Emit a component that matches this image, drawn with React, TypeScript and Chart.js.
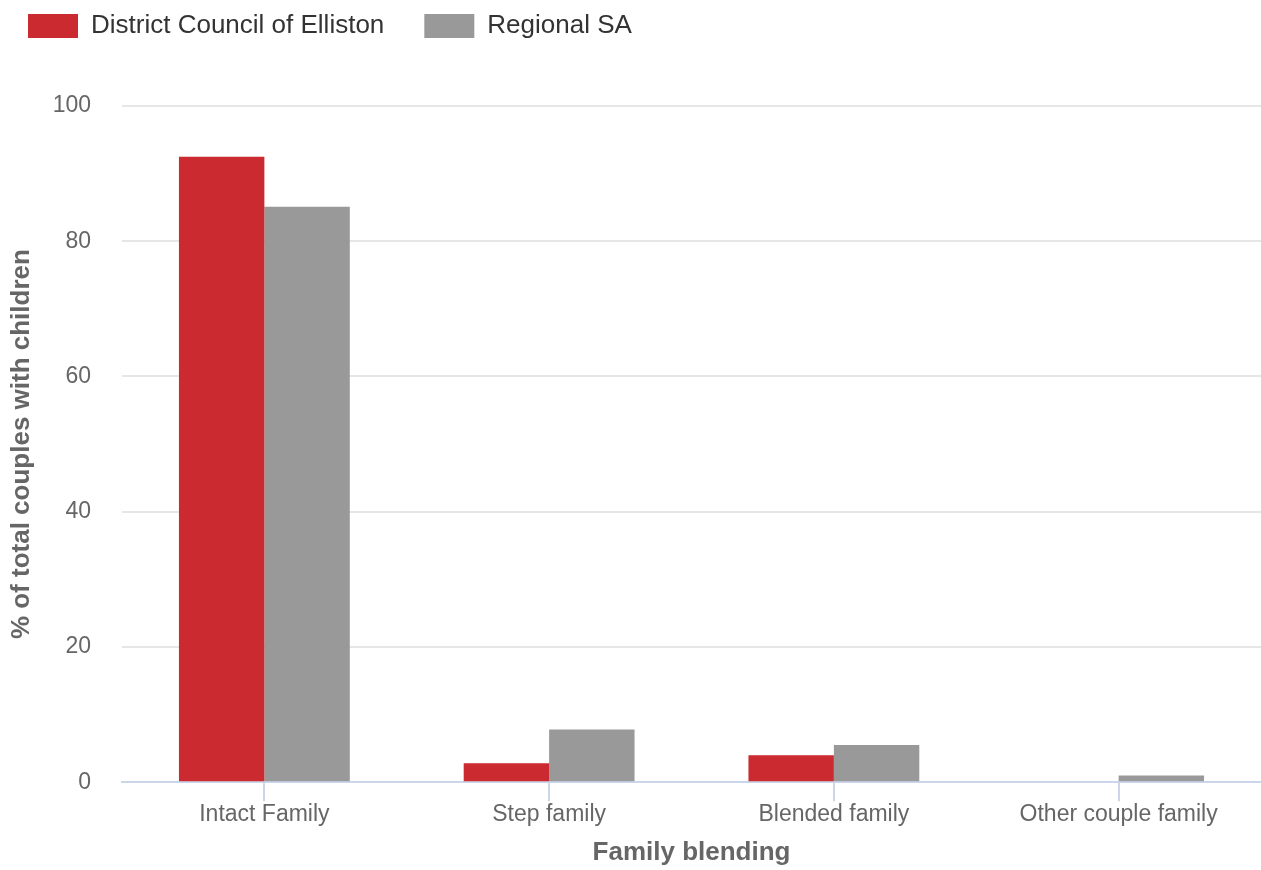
import React, { useEffect, useRef } from "react";
import { Chart, registerables } from "chart.js";

Chart.register(...registerables);

const categories = ["Intact Family", "Step family", "Blended family", "Other couple family"];
const ellistonValues = [92.5, 2.8, 4.0, 0];
const regionalValues = [85.1, 7.8, 5.5, 1.0];
const seriesNames = ["District Council of Elliston", "Regional SA"];
const yTicks = [0, 20, 40, 60, 80, 100];

const FONT = "'Liberation Sans', Arial, sans-serif";

const legendTweak = {
  id: "legendTweak",
  beforeInit(chart: any) {
    const legend = chart.legend;
    if (!legend) return;
    const orig = legend.fit.bind(legend);
    legend.fit = function () {
      orig();
      this.height = 106;
    };
  },
  beforeDraw(chart: any) {
    const legend = chart.legend;
    if (!legend) return;
    legend.left = 28 - 40;
    legend.top = 13 - 40;
  },
};

export default function App() {
  const ref = useRef<HTMLCanvasElement | null>(null);
  useEffect(() => {
    document.body.style.margin = "0";
    const chart = new Chart(ref.current!, {
      type: "bar",
      data: {
        labels: categories,
        datasets: [
          {
            label: seriesNames[0],
            data: ellistonValues,
            backgroundColor: "#cb2b30",
            categoryPercentage: 0.6,
            barPercentage: 1.0,
          },
          {
            label: seriesNames[1],
            data: regionalValues,
            backgroundColor: "#999999",
            categoryPercentage: 0.6,
            barPercentage: 1.0,
          },
        ],
      },
      plugins: [legendTweak],
      options: {
        animation: false,
        responsive: false,
        maintainAspectRatio: false,
        layout: { padding: { left: 0, right: 0, top: 0, bottom: 2 } },
        plugins: {
          tooltip: { enabled: false },
          legend: {
            position: "top",
            align: "start",
            labels: {
              boxWidth: 50,
              boxHeight: 24,
              color: "#333333",
              font: { family: FONT, size: 26 },
              padding: 40,
            },
          },
        },
        scales: {
          x: {
            offset: true,
            grid: {
              offset: false,
              drawOnChartArea: false,
              drawTicks: true,
              tickLength: 19,
              color: "#ccd6eb",
              lineWidth: 2,
            },
            border: { display: true, color: "#ccd6eb", width: 2 },
            ticks: {
              color: "#666666",
              font: { family: FONT, size: 23 },
              padding: 0,
              maxRotation: 0,
            },
            title: {
              display: true,
              text: "Family blending",
              color: "#666666",
              font: { family: FONT, size: 26, weight: "bold" },
              padding: { top: 8, bottom: 0 },
            },
          },
          y: {
            min: 0,
            max: 100,
            afterBuildTicks: (axis: any) => {
              axis.ticks = yTicks.map((v) => ({ value: v }));
            },
            afterFit: (axis: any) => {
              axis.width = 122;
            },
            grid: { color: "#e6e6e6", lineWidth: 2, drawTicks: false },
            border: { display: false },
            ticks: {
              color: "#666666",
              font: { family: FONT, size: 23 },
              padding: 31,
            },
            title: {
              display: true,
              text: "% of total couples with children",
              color: "#666666",
              font: { family: FONT, size: 26, weight: "bold" },
              padding: { top: 6, bottom: 0 },
            },
          },
        },
      },
    });
    return () => chart.destroy();
  }, []);
  return <canvas ref={ref} width={1261} height={870} style={{ display: "block" }} />;
}
